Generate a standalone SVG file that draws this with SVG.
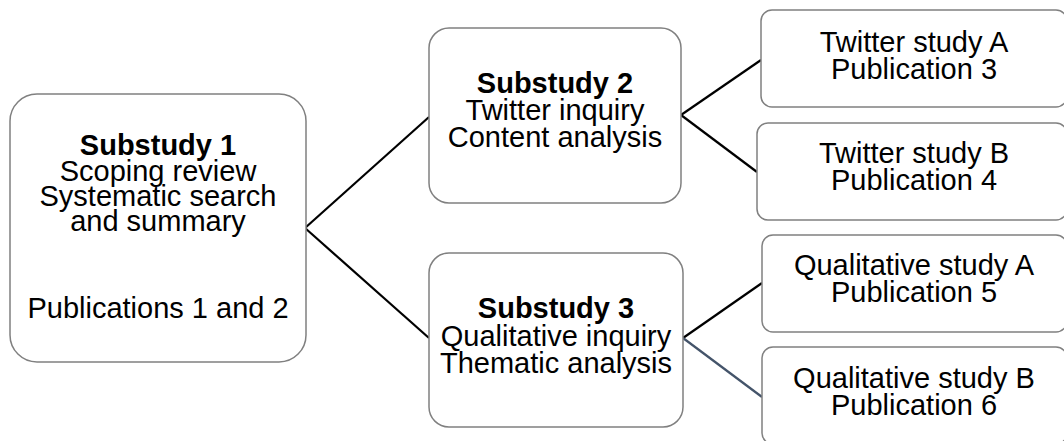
<svg xmlns="http://www.w3.org/2000/svg" width="1064" height="441" viewBox="0 0 1064 441">
<style>
.box{fill:#ffffff;stroke:#808080;stroke-width:1.5}
.t{font-family:"Liberation Sans",Arial,sans-serif;font-size:29px;fill:#000000;text-anchor:middle}
.b{font-weight:bold}
.c{stroke:#000000;stroke-width:2.2;fill:none}
</style>
<rect width="1064" height="441" fill="#ffffff"/>
<g id="connectors">
<line class="c" x1="305" y1="228" x2="429" y2="117"/>
<line class="c" x1="305" y1="228" x2="429" y2="338"/>
<line class="c" x1="681" y1="115" x2="761" y2="60"/>
<line class="c" x1="681" y1="115" x2="757" y2="172"/>
<line class="c" x1="683" y1="338" x2="762" y2="283"/>
<line class="c" x1="683" y1="338" x2="762" y2="397" style="stroke:#44546a"/>
</g>
<g id="substudy1">
<rect class="box" x="10" y="94" width="296" height="268" rx="27"/>
<text class="t b" x="158" y="155">Substudy 1</text>
<text class="t" x="158" y="180.5">Scoping review</text>
<text class="t" x="158" y="206">Systematic search</text>
<text class="t" x="158" y="231">and summary</text>
<text class="t" x="158" y="318">Publications 1 and 2</text>
</g>
<g id="substudy2">
<rect class="box" x="429" y="28" width="252" height="175" rx="20"/>
<text class="t b" x="555" y="92.5">Substudy 2</text>
<text class="t" x="555" y="120">Twitter inquiry</text>
<text class="t" x="555" y="147">Content analysis</text>
</g>
<g id="substudy3">
<rect class="box" x="429" y="253" width="254" height="174" rx="20"/>
<text class="t b" x="556" y="318">Substudy 3</text>
<text class="t" x="556" y="346">Qualitative inquiry</text>
<text class="t" x="556" y="373">Thematic analysis</text>
</g>
<g id="twitterA">
<rect class="box" x="761" y="10" width="306" height="97" rx="11"/>
<text class="t" x="914" y="52">Twitter study A</text>
<text class="t" x="914" y="79">Publication 3</text>
</g>
<g id="twitterB">
<rect class="box" x="757" y="123" width="310" height="97" rx="11"/>
<text class="t" x="914" y="163">Twitter study B</text>
<text class="t" x="914" y="190">Publication 4</text>
</g>
<g id="qualA">
<rect class="box" x="762" y="235" width="305" height="97" rx="11"/>
<text class="t" x="914" y="275">Qualitative study A</text>
<text class="t" x="914" y="302">Publication 5</text>
</g>
<g id="qualB">
<rect class="box" x="762" y="347" width="305" height="97" rx="11"/>
<text class="t" x="914" y="388">Qualitative study B</text>
<text class="t" x="914" y="415">Publication 6</text>
</g>
</svg>
